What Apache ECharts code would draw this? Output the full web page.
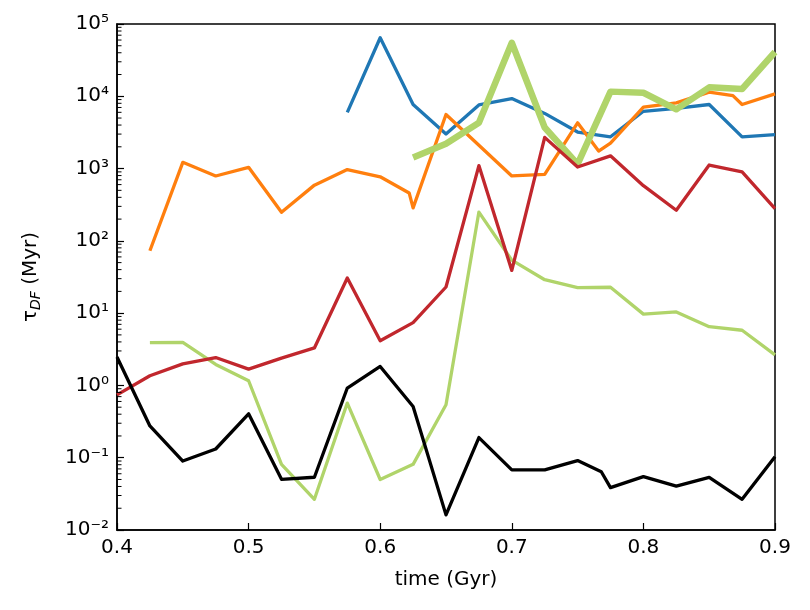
<!DOCTYPE html>
<html>
<head>
<meta charset="utf-8">
<script src="https://cdn.jsdelivr.net/npm/echarts@6/dist/echarts.min.js"></script>
</head>
<body style="margin:0">
<div id="main" style="width: 810px;height:610px;"></div>

<script type="text/javascript">
// time (Gyr) and tau_DF (Myr)
var blueT  = [0.575, 0.6, 0.625, 0.65, 0.675, 0.7, 0.725, 0.75, 0.775, 0.8, 0.825, 0.85, 0.875, 0.9];
var blueV  = [6000, 64500, 7700, 3000, 7600, 9300, 5800, 3200, 2750, 6200, 6800, 7700, 2750, 2950];

var orangeT = [0.425, 0.45, 0.475, 0.5, 0.525, 0.55, 0.575, 0.6, 0.622, 0.625, 0.65, 0.7, 0.725, 0.75, 0.766, 0.775, 0.8, 0.825, 0.85, 0.868, 0.875, 0.9];
var orangeV = [73, 1220, 790, 1040, 248, 590, 970, 770, 460, 286, 5600, 790, 830, 4300, 1750, 2250, 7100, 8100, 11400, 10200, 7700, 10800];

var greenThickT = [0.625, 0.65, 0.675, 0.7, 0.725, 0.75, 0.775, 0.8, 0.825, 0.85, 0.875, 0.9];
var greenThickV = [1420, 2200, 4300, 55000, 3700, 1150, 11600, 11200, 6600, 13300, 12600, 41000];

var greenT = [0.425, 0.45, 0.475, 0.5, 0.525, 0.55, 0.575, 0.6, 0.625, 0.65, 0.675, 0.7, 0.725, 0.75, 0.775, 0.8, 0.825, 0.85, 0.875, 0.9];
var greenV = [3.9, 3.95, 1.95, 1.16, 0.081, 0.0266, 0.57, 0.05, 0.081, 0.54, 250, 54, 29, 22.5, 22.8, 9.7, 10.4, 6.5, 5.8, 2.65];

var redT = [0.4, 0.425, 0.45, 0.475, 0.5, 0.525, 0.55, 0.575, 0.6, 0.625, 0.65, 0.675, 0.7, 0.725, 0.75, 0.775, 0.8, 0.825, 0.85, 0.875, 0.9];
var redV = [0.74, 1.36, 1.99, 2.43, 1.68, 2.39, 3.3, 30.6, 4.15, 7.4, 23, 1100, 39, 2700, 1050, 1500, 580, 265, 1120, 900, 280];

var blackT = [0.4, 0.425, 0.45, 0.475, 0.5, 0.525, 0.55, 0.575, 0.6, 0.625, 0.65, 0.675, 0.7, 0.725, 0.75, 0.768, 0.775, 0.8, 0.825, 0.85, 0.875, 0.9];
var blackV = [2.47, 0.275, 0.09, 0.132, 0.405, 0.0503, 0.0537, 0.92, 1.83, 0.51, 0.0162, 0.19, 0.068, 0.0677, 0.0912, 0.064, 0.0385, 0.0547, 0.0405, 0.0535, 0.0266, 0.103];

var supDigits = {'-': '⁻', '0': '⁰', '1': '¹', '2': '²', '3': '³', '4': '⁴', '5': '⁵', '6': '⁶', '7': '⁷', '8': '⁸', '9': '⁹'};

function pairs(t, v) {
    var out = [];
    for (var i = 0; i < t.length; i++) out.push([t[i], v[i]]);
    return out;
}

// minor tick values 2..9 x 10^k for the log axis
var minorVals = [];
for (var k = -2; k < 5; k++) {
    for (var m = 2; m <= 9; m++) minorVals.push(m * Math.pow(10, k));
}

function line(name, t, v, color, width) {
    return {
        name: name,
        type: 'line',
        data: pairs(t, v),
        showSymbol: false,
        symbol: 'none',
        lineStyle: { color: color, width: width, join: 'round' },
        itemStyle: { color: color },
        animation: false,
        z: 3
    };
}

var font = 'DejaVu Sans';

option = {
    animation: false,
    backgroundColor: '#fff',
    grid: {
        left: 117, right: 35, top: 24, bottom: 80,
        show: true, borderColor: '#000', borderWidth: 1.5, backgroundColor: 'transparent'
    },
    xAxis: {
        type: 'value',
        min: 0.4, max: 0.9, interval: 0.1,
        name: 'time (Gyr)',
        nameLocation: 'middle',
        nameGap: 40,
        nameTextStyle: { fontFamily: font, fontSize: 20, color: '#000' },
        axisLine: { lineStyle: { color: '#000', width: 1.5 } },
        axisTick: { inside: true, length: 7, lineStyle: { color: '#000', width: 1.2 } },
        axisLabel: {
            fontFamily: font, fontSize: 20, color: '#000', margin: 8,
            formatter: function (v) { return v.toFixed(1); }
        },
        splitLine: { show: false }
    },
    yAxis: {
        type: 'log',
        logBase: 10,
        min: 0.01, max: 100000,
        splitNumber: 7,
        name: '{t|τ}{s|DF}{t| (Myr)}',
        nameLocation: 'middle',
        nameGap: 74,
        nameRotate: 90,
        nameTextStyle: {
            color: '#000',
            rich: {
                t: { fontFamily: font, fontSize: 20, color: '#000', lineHeight: 24 },
                s: { fontFamily: font, fontSize: 14, fontStyle: 'italic', color: '#000', verticalAlign: 'bottom', lineHeight: 16, padding: [6, 0, 0, 0] }
            }
        },
        axisLine: { lineStyle: { color: '#000', width: 1.5 } },
        axisTick: { inside: true, length: 7, lineStyle: { color: '#000', width: 1.2 } },
        axisLabel: {
            fontFamily: font, fontSize: 20, color: '#000', margin: 8,
            formatter: function (v) {
                var e = Math.round(Math.log10(v)).toString();
                var s = '';
                for (var i = 0; i < e.length; i++) s += supDigits[e[i]];
                return '10' + s;
            }
        },
        splitLine: { show: false }
    },
    series: [
        line('blue', blueT, blueV, '#1f77b4', 3.3),
        line('orange', orangeT, orangeV, '#ff7f0e', 3.3),
        line('greenThick', greenThickT, greenThickV, '#b0d46a', 6.5),
        line('green', greenT, greenV, '#b0d46a', 3.3),
        line('red', redT, redV, '#c1272d', 3.3),
        line('black', blackT, blackV, '#000000', 3.3)
    ]
};

var myChart = echarts.init(document.getElementById('main'));
myChart.setOption(option);

// log minor ticks, placed through the axis scales
var x0 = myChart.convertToPixel({ xAxisIndex: 0 }, 0.4);
var ticks = [];
for (var i = 0; i < minorVals.length; i++) {
    var yp = myChart.convertToPixel({ yAxisIndex: 0 }, minorVals[i]);
    ticks.push({
        type: 'line',
        silent: true,
        z: 100,
        shape: { x1: x0, y1: yp, x2: x0 + 4.5, y2: yp },
        style: { stroke: '#000', lineWidth: 1 }
    });
}
myChart.setOption({ graphic: { elements: ticks } });
</script>
</body>
</html>
